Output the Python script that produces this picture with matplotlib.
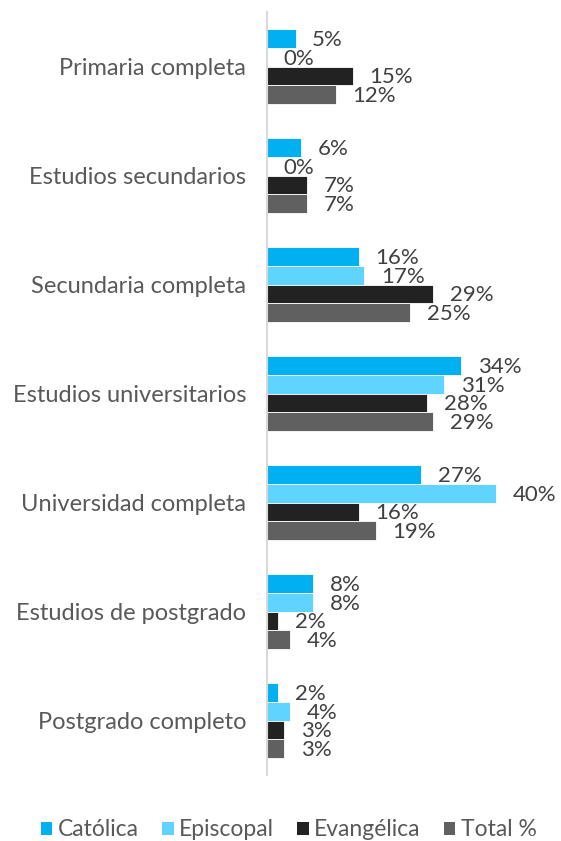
import numpy as np
import matplotlib.pyplot as plt
from matplotlib.patches import Patch

plt.rcParams['font.family'] = ['Lato', 'DejaVu Sans']

categories = ['Primaria completa', 'Estudios secundarios', 'Secundaria completa',
              'Estudios universitarios', 'Universidad completa',
              'Estudios de postgrado', 'Postgrado completo']
series = ['Católica', 'Episcopal', 'Evangélica', 'Total %']
catolica = [5, 6, 16, 34, 27, 8, 2]
episcopal = [0, 0, 17, 31, 40, 8, 4]
evangelica = [15, 7, 29, 28, 16, 2, 3]
total = [12, 7, 25, 29, 19, 4, 3]
values = [catolica, episcopal, evangelica, total]
colors = ['#00B0F0', '#5FD4FF', '#222222', '#606060']

W, H = 561, 841
fig = plt.figure(figsize=(W / 100, H / 100), dpi=100)
ax = fig.add_axes([267 / W, (H - 775) / H, 286 / W, 763 / H])

y = np.arange(len(categories))
h = 0.172
for k, (vals, c) in enumerate(zip(values, colors)):
    pos = y + (k - 1.5) * h
    ax.barh(pos, vals, height=h, color=c, edgecolor='white', linewidth=0.6)
    for p, v in zip(pos, vals):
        ax.annotate(f'{v}%', (v, p), xytext=(12, -1), textcoords='offset points',
                    ha='left', va='center', fontsize=16, color='#404040')

ax.set_xlim(0, 50)
ax.set_ylim(6.5, -0.5)
ax.set_yticks(y)
ax.set_yticklabels(categories, fontsize=17, color='#595959')
ax.tick_params(axis='y', length=0, pad=15)
ax.set_xticks([])
for s in ['top', 'right', 'bottom']:
    ax.spines[s].set_visible(False)
ax.spines['left'].set_color('#D9D9D9')
ax.spines['left'].set_linewidth(1.5)

handles = [Patch(facecolor=c, edgecolor='none') for c in colors]
fig.legend(handles, series, loc='center', bbox_to_anchor=(0.515, 11 / H), ncol=4,
           frameon=False, fontsize=16.5, labelcolor='#595959',
           handlelength=0.5, handleheight=0.5, handletextpad=0.25, columnspacing=1.0)

fig.savefig('out.png', dpi=100)
